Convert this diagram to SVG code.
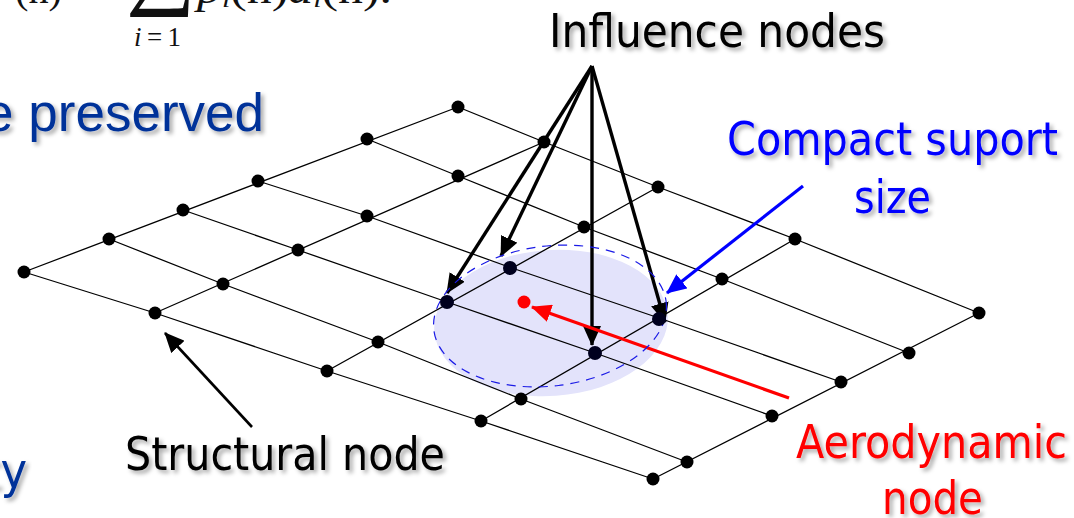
<svg xmlns="http://www.w3.org/2000/svg" width="1074" height="518" viewBox="0 0 1074 518">
<defs>
<filter id="sh" x="-10%" y="-20%" width="120%" height="150%"><feDropShadow dx="3" dy="3" stdDeviation="2" flood-color="#000" flood-opacity="0.35"/></filter>
<marker id="ak" markerUnits="userSpaceOnUse" markerWidth="20" markerHeight="18" refX="19" refY="9" orient="auto"><path d="M0 0L20 9L0 18Z" fill="#000"/></marker>
<marker id="ab" markerUnits="userSpaceOnUse" markerWidth="20" markerHeight="18" refX="19" refY="9" orient="auto"><path d="M0 0L20 9L0 18Z" fill="#00f"/></marker>
<marker id="ar" markerUnits="userSpaceOnUse" markerWidth="20" markerHeight="18" refX="19" refY="9" orient="auto"><path d="M0 0L20 9L0 18Z" fill="#f00"/></marker>
</defs>
<style>
.g{fill:none;stroke:#000;stroke-width:1.3}
.n{fill:#000}
.t{font-family:"DejaVu Sans Condensed","DejaVu Sans",sans-serif;font-size:47px;filter:url(#sh)}
.m{font-family:"Liberation Serif",serif;fill:#111}
.k{stroke:#000;stroke-width:3.4}
</style>
<rect width="1074" height="518" fill="#fff"/>
<g id="math" class="m">
<text x="15" y="3" font-size="40" textLength="47" lengthAdjust="spacingAndGlyphs">(n)</text>
<text x="126" y="-4" font-size="98">∑</text>
<text x="134" y="46" font-size="27" textLength="47" lengthAdjust="spacing" font-style="italic">i<tspan font-style="normal">=1</tspan></text>
<text x="197" y="3" font-size="40" textLength="195" lengthAdjust="spacingAndGlyphs" font-style="italic">p<tspan font-size="24" dy="4">i</tspan><tspan dy="-4" font-style="normal">(n)</tspan>a<tspan font-size="24" dy="4">i</tspan><tspan dy="-4" font-style="normal">(n).</tspan></text>
</g>
<ellipse id="support-fill" cx="551" cy="323" rx="117" ry="73" fill="#e3e3fb" transform="rotate(-4 551 323)"/>
<g id="connectors">
<g id="grid">
<path class="g" d="M24 272L458 107M155 313L544 142M327 371L658 187M481 421L795 239M653 479L979 313"/>
<path class="g" d="M24 272L155 313L327 371L481 421L653 479M109 239L223 284L378 342L521 399L687 462M183 210L298 250L447 302L595 353L772 416M258 181L367 216L509 267L659 318L841 382M367 139L458 176L584 227L722 279L909 353M458 107L544 142L658 187L795 239L979 313"/>
</g>
<g fill="none">
<path class="k" d="M592 66L447 293" marker-end="url(#ak)"/>
<path class="k" d="M592 66L501 256" marker-end="url(#ak)"/>
<path class="k" d="M592 66V345" marker-end="url(#ak)"/>
<path class="k" d="M592 66L665 322" marker-end="url(#ak)"/>
<path d="M252 427L165 333" stroke="#000" stroke-width="2.6" marker-end="url(#ak)"/>
<path d="M803 186L667 293" stroke="#00f" stroke-width="3.2" marker-end="url(#ab)"/>
<path d="M789 398L532 307" stroke="#f00" stroke-width="3.2" marker-end="url(#ar)"/>
</g>
</g>
<ellipse id="support-outline" cx="550" cy="316" rx="117" ry="70" fill="none" stroke="#1a1ae6" stroke-width="1.2" stroke-dasharray="9 7" transform="rotate(-7 550 316)"/>
<g id="structural-nodes" class="n">
<circle cx="24" cy="272" r="6.5"/><circle cx="109" cy="239" r="6.5"/><circle cx="183" cy="210" r="6.5"/><circle cx="258" cy="181" r="6.5"/><circle cx="367" cy="139" r="6.5"/><circle cx="458" cy="107" r="6.5"/>
<circle cx="155" cy="313" r="6.5"/><circle cx="223" cy="284" r="6.5"/><circle cx="298" cy="250" r="6.5"/><circle cx="367" cy="216" r="6.5"/><circle cx="458" cy="176" r="6.5"/><circle cx="544" cy="142" r="6.5"/>
<circle cx="327" cy="371" r="6.5"/><circle cx="378" cy="342" r="6.5"/><circle cx="584" cy="227" r="6.5"/><circle cx="658" cy="187" r="6.5"/>
<circle cx="481" cy="421" r="6.5"/><circle cx="521" cy="399" r="6.5"/><circle cx="722" cy="279" r="6.5"/><circle cx="795" cy="239" r="6.5"/>
<circle cx="653" cy="479" r="6.5"/><circle cx="687" cy="462" r="6.5"/><circle cx="772" cy="416" r="6.5"/><circle cx="841" cy="382" r="6.5"/><circle cx="909" cy="353" r="6.5"/><circle cx="979" cy="313" r="6.5"/>
</g>
<g id="influence-nodes" fill="#00001e">
<circle cx="447" cy="302" r="7"/><circle cx="510" cy="268" r="7"/><circle cx="595" cy="353" r="7"/><circle cx="659" cy="319" r="7"/>
</g>
<circle id="aerodynamic-node" cx="524" cy="302" r="6.5" fill="#f00"/>
<g id="labels">
<text class="t" x="549" y="47" textLength="336" lengthAdjust="spacingAndGlyphs" fill="#000">Influence nodes</text>
<text class="t" x="727" y="155" textLength="331" lengthAdjust="spacingAndGlyphs" fill="#00f">Compact suport</text>
<text class="t" x="854" y="213" textLength="77" lengthAdjust="spacingAndGlyphs" fill="#00f">size</text>
<text class="t" x="125" y="470" textLength="320" lengthAdjust="spacingAndGlyphs" fill="#000">Structural node</text>
<text class="t" x="796" y="458" textLength="271" lengthAdjust="spacingAndGlyphs" fill="#f00">Aerodynamic</text>
<text class="t" x="882" y="514" textLength="101" lengthAdjust="spacingAndGlyphs" fill="#f00">node</text>
<text x="264" y="131" text-anchor="end" font-family="Liberation Sans, sans-serif" font-size="53" fill="#003399" filter="url(#sh)">e preserved</text>
<text x="27" y="488" text-anchor="end" font-family="DejaVu Sans Condensed, sans-serif" font-size="50" fill="#003399" filter="url(#sh)">ty</text>
</g>
</svg>
